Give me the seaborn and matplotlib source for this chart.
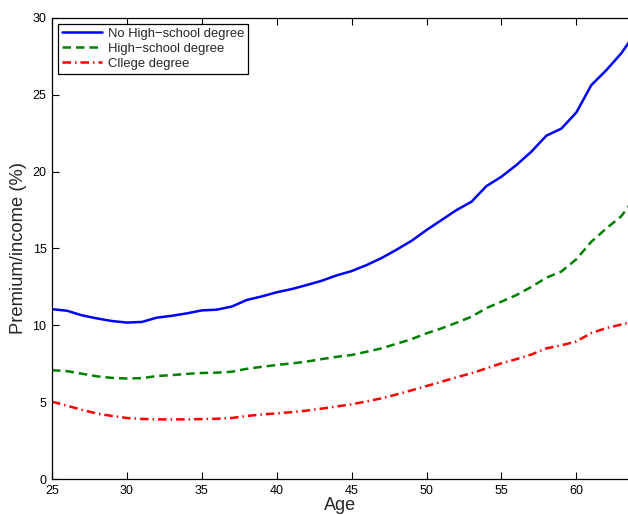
import numpy as np
import pandas as pd
import seaborn as sns
import matplotlib
matplotlib.use("Agg")
import matplotlib.pyplot as plt

ages = list(range(25, 65))
no_hs = [11.05, 10.95, 10.65, 10.45, 10.28, 10.18, 10.22, 10.5, 10.62, 10.78,
         10.97, 11.02, 11.22, 11.65, 11.88, 12.15, 12.36, 12.62, 12.9, 13.25,
         13.53, 13.92, 14.38, 14.92, 15.5, 16.2, 16.85, 17.5, 18.04, 19.06,
         19.67, 20.43, 21.3, 22.34, 22.8, 23.85, 25.63, 26.6, 27.7, 29.1]
hs = [7.08, 7.02, 6.85, 6.68, 6.58, 6.54, 6.56, 6.7, 6.76, 6.84,
      6.9, 6.92, 6.98, 7.17, 7.3, 7.42, 7.52, 7.64, 7.8, 7.95,
      8.07, 8.28, 8.5, 8.8, 9.1, 9.48, 9.8, 10.17, 10.56, 11.12,
      11.54, 11.97, 12.5, 13.1, 13.5, 14.3, 15.44, 16.3, 17.1, 18.4]
college = [5.03, 4.77, 4.5, 4.26, 4.1, 3.97, 3.91, 3.88, 3.88, 3.88,
           3.9, 3.92, 3.97, 4.1, 4.2, 4.27, 4.35, 4.45, 4.58, 4.72,
           4.86, 5.05, 5.25, 5.5, 5.77, 6.05, 6.33, 6.62, 6.88, 7.2,
           7.53, 7.8, 8.1, 8.5, 8.7, 8.95, 9.5, 9.82, 10.05, 10.3]
groups = ["No High\u2212school degree", "High\u2212school degree", "Cllege degree"]

df = pd.DataFrame({
    "age": ages * 3,
    "premium": no_hs + hs + college,
    "group": [groups[0]] * len(ages) + [groups[1]] * len(ages) + [groups[2]] * len(ages),
})

sns.set_style("white")
plt.rcParams["font.family"] = ["Liberation Sans", "DejaVu Sans"]

fig = plt.figure(figsize=(6.28, 5.15), dpi=100)
ax = fig.add_axes([0.0828, 0.0699, 0.9172, 0.8952])

palette = {groups[0]: "#0000ff", groups[1]: "#008000", groups[2]: "#ff0000"}
dashes = {groups[0]: "", groups[1]: (3.4, 2.0), groups[2]: (3.4, 1.6, 0.6, 1.6)}
sns.lineplot(data=df, x="age", y="premium", hue="group", style="group",
             palette=palette, dashes=dashes, linewidth=1.8, ax=ax)

ax.set_xlim(25, 63.45)
ax.set_ylim(0, 30)
ax.set_xticks(range(25, 61, 5))
ax.set_yticks(range(0, 31, 5))
ax.tick_params(direction="in", length=5, width=0.8, labelsize=9, colors="black",
               top=True, right=False, bottom=True, left=True, pad=4)
for s in ["left", "bottom", "top"]:
    ax.spines[s].set_color("black")
    ax.spines[s].set_linewidth(0.9)
ax.spines["right"].set_visible(False)

ax.set_xlabel("Age", fontsize=13, labelpad=0)
ax.set_ylabel("Premium/income (%)", fontsize=13.2, labelpad=4)

leg = ax.legend(loc="upper left", fontsize=9.4, frameon=True, fancybox=False,
                handlelength=3.1, borderpad=0.3, labelspacing=0.22,
                handletextpad=0.45, borderaxespad=0.45)
leg.get_frame().set_edgecolor("black")
leg.get_frame().set_linewidth(0.9)
leg.get_frame().set_alpha(1)

fig.savefig("out.png", dpi=100)
